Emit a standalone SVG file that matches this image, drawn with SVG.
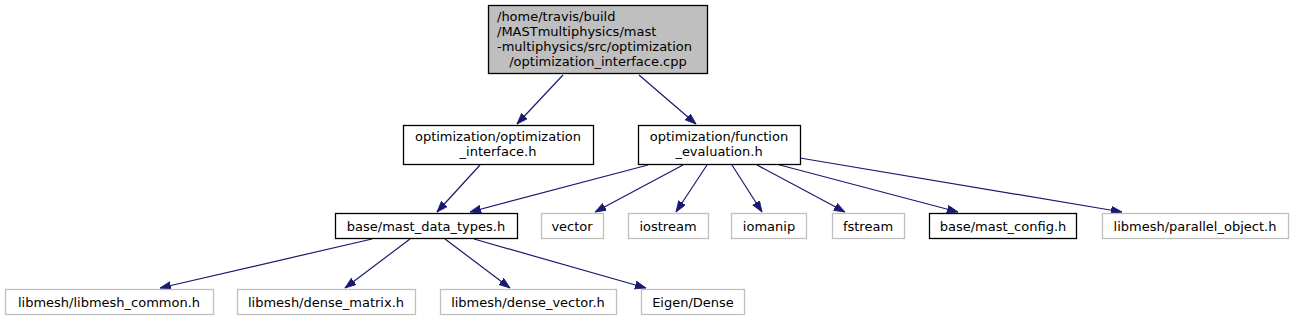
<svg xmlns="http://www.w3.org/2000/svg" width="1294" height="320" viewBox="0 0 1294 320">
<style>
text { font-family: "DejaVu Sans", "Liberation Sans", sans-serif; font-size: 13px; fill: #000; text-anchor: middle; }
text.l { text-anchor: start; }
.doc { fill: #ffffff; stroke: #000000; stroke-width: 1.3; }
.root { fill: #bfbfbf; stroke: #000000; stroke-width: 1.3; }
.ext { fill: #ffffff; stroke: #bfbfbf; stroke-width: 1.3; }
.edge { stroke: #191970; stroke-width: 1.2; fill: none; marker-end: url(#arrow); }
</style>
<defs>
<marker id="arrow" markerUnits="userSpaceOnUse" markerWidth="12" markerHeight="9" refX="11" refY="4" orient="auto">
<path d="M0,0 L11,4 L0,8 z" fill="#191970" stroke="#191970" stroke-width="0.8"/>
</marker>
</defs>
<rect width="1294" height="320" fill="#ffffff"/>
<g id="connectors">
<line class="edge" x1="563" y1="75" x2="517" y2="124"/>
<line class="edge" x1="639" y1="75" x2="696" y2="124"/>
<line class="edge" x1="480" y1="165" x2="437" y2="212"/>
<line class="edge" x1="648" y1="165" x2="470" y2="212"/>
<line class="edge" x1="683" y1="165" x2="595" y2="212"/>
<line class="edge" x1="707" y1="165" x2="676" y2="212"/>
<line class="edge" x1="732" y1="165" x2="762" y2="212"/>
<line class="edge" x1="757" y1="165" x2="845" y2="212"/>
<line class="edge" x1="776" y1="164" x2="958" y2="212"/>
<line class="edge" x1="800" y1="158" x2="1122" y2="212"/>
<line class="edge" x1="372" y1="239" x2="160" y2="288"/>
<line class="edge" x1="410" y1="239" x2="345" y2="288"/>
<line class="edge" x1="445" y1="239" x2="510" y2="288"/>
<line class="edge" x1="474" y1="239" x2="646" y2="288"/>
</g>
<g id="node-root">
<rect class="root" x="488.5" y="5.5" width="219" height="68"/>
<text class="l" x="497" y="21">/home/travis/build</text>
<text class="l" x="497" y="36">/MASTmultiphysics/mast</text>
<text class="l" x="497" y="51">-multiphysics/src/optimization</text>
<text x="598" y="66">/optimization_interface.cpp</text>
</g>
<g id="node-opt-interface">
<rect class="doc" x="403.5" y="125.5" width="190" height="39"/>
<text x="498" y="141">optimization/optimization</text>
<text x="498" y="156">_interface.h</text>
</g>
<g id="node-function-eval">
<rect class="doc" x="638.5" y="125.5" width="162" height="39"/>
<text x="719" y="141">optimization/function</text>
<text x="719" y="156">_evaluation.h</text>
</g>
<g id="node-mast-data-types">
<rect class="doc" x="335.5" y="213.5" width="182" height="25"/>
<text x="426" y="230.5">base/mast_data_types.h</text>
</g>
<g id="node-vector">
<rect class="ext" x="541.5" y="213.5" width="62" height="25"/>
<text x="572" y="230.5">vector</text>
</g>
<g id="node-iostream">
<rect class="ext" x="628.5" y="213.5" width="80" height="25"/>
<text x="668" y="230.5">iostream</text>
</g>
<g id="node-iomanip">
<rect class="ext" x="731.5" y="213.5" width="75" height="25"/>
<text x="769" y="230.5">iomanip</text>
</g>
<g id="node-fstream">
<rect class="ext" x="832.5" y="213.5" width="72" height="25"/>
<text x="868" y="230.5">fstream</text>
</g>
<g id="node-mast-config">
<rect class="doc" x="929.5" y="213.5" width="147" height="25"/>
<text x="1003" y="230.5">base/mast_config.h</text>
</g>
<g id="node-parallel-object">
<rect class="ext" x="1102.5" y="213.5" width="186" height="25"/>
<text x="1195" y="230.5">libmesh/parallel_object.h</text>
</g>
<g id="node-libmesh-common">
<rect class="ext" x="5.5" y="289.5" width="208" height="25"/>
<text x="109" y="306.5">libmesh/libmesh_common.h</text>
</g>
<g id="node-dense-matrix">
<rect class="ext" x="237.5" y="289.5" width="178" height="25"/>
<text x="326" y="306.5">libmesh/dense_matrix.h</text>
</g>
<g id="node-dense-vector">
<rect class="ext" x="440.5" y="289.5" width="176" height="25"/>
<text x="528" y="306.5">libmesh/dense_vector.h</text>
</g>
<g id="node-eigen-dense">
<rect class="ext" x="641.5" y="289.5" width="103" height="25"/>
<text x="693" y="306.5">Eigen/Dense</text>
</g>
</svg>
